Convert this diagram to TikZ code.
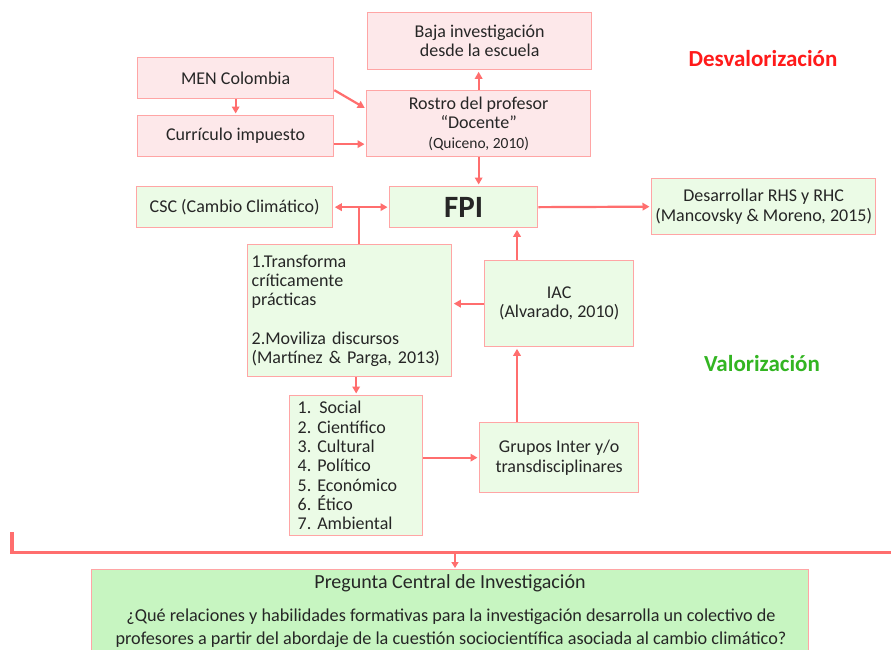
\documentclass[tikz,border=0pt]{standalone}
\usepackage{fontspec}
\setmainfont{Carlito}
\usetikzlibrary{arrows.meta,calc}
\definecolor{pinkfill}{HTML}{FDE8EA}
\definecolor{greenfill}{HTML}{EBFBE6}
\definecolor{boxline}{HTML}{FFA5A5}
\definecolor{arrcol}{HTML}{FF6E6E}
\definecolor{txt}{HTML}{262626}
\definecolor{bottomfill}{HTML}{C7F5C1}
\definecolor{redtxt}{HTML}{FF1A1A}
\definecolor{greentxt}{HTML}{33B522}
\tikzset{
  bx/.style={draw=boxline, line width=1.3pt, anchor=north west, inner sep=2pt, align=center,
    text=txt, font=\fontsize{18}{19.3}\selectfont},
  pinkbox/.style={bx, fill=pinkfill},
  greenbox/.style={bx, fill=greenfill},
  arr/.style={draw=arrcol, line width=2.2pt, shorten >=1.5pt, -{Triangle[length=7pt,width=7.5pt]}},
  dblarr/.style={draw=arrcol, line width=2.2pt, shorten >=1.5pt, shorten <=1.5pt, {Triangle[length=7pt,width=7.5pt]}-{Triangle[length=7pt,width=7.5pt]}},
  ln/.style={draw=arrcol, line width=2.2pt},
}
\begin{document}
\frenchspacing
\begin{tikzpicture}[x=1pt,y=-1pt]
\clip (0,0) rectangle (891,649);
\fill[white] (0,0) rectangle (891,649);

% Desvalorizacion block
\node[pinkbox, minimum width=224pt, minimum height=57pt] (baja) at (367,12) {Baja investigación\\desde la escuela};
\node[pinkbox, minimum width=196pt, minimum height=41pt] (men) at (137,57) {MEN Colombia};
\node[pinkbox, minimum width=196pt, minimum height=41pt] (cur) at (137,115) {Currículo impuesto};
\node[pinkbox, minimum width=224pt, minimum height=66pt] (ros) at (366,90) {Rostro del profesor\\“Docente”\\{\fontsize{15.5}{15}\selectfont (Quiceno, 2010)}};

% Central row
\node[greenbox, minimum width=196pt, minimum height=41pt] (csc) at (136,186) {CSC (Cambio Climático)};
\node[greenbox, minimum width=148pt, minimum height=41pt, font=\fontsize{31}{32}\selectfont\bfseries] (fpi) at (389,186) {FPI};
\node[greenbox, minimum width=224pt, minimum height=56pt] (des) at (651,178) {Desarrollar RHS y RHC\\(Mancovsky \& Moreno, 2015)};

\node[greenbox, minimum width=204pt, minimum height=132pt, align=left, text width=196pt] (tra) at (247,244) {1.Transforma\\críticamente\\prácticas\\[19.3pt]2.Moviliza discursos\\(Martínez \& Parga, 2013)};
\node[greenbox, minimum width=149pt, minimum height=86pt] (iac) at (484,260) {IAC\\(Alvarado, 2010)};
\node[greenbox, minimum width=133pt, minimum height=140pt, align=left, text width=117pt] (lst) at (289,395) {1.\hspace{8pt}Social\\2. Científico\\3. Cultural\\4. Político\\5. Económico\\6. Ético\\7. Ambiental};
\node[greenbox, minimum width=159pt, minimum height=70pt] (gru) at (479,422) {Grupos Inter y/o\\transdisciplinares};

% Labels
\node[text=redtxt, font=\fontsize{23}{24}\selectfont\bfseries] (dlab) at (763,59) {Desvalorización};
\node[text=greentxt, font=\fontsize{23}{24}\selectfont\bfseries] (vlab) at (762,364) {Valorización};

% Bottom box
\node[draw=boxline, line width=1.3pt, fill=bottomfill, anchor=north west, minimum width=717pt, minimum height=86pt] (pre) at (91,569) {};
\node[text=txt, font=\fontsize{20}{22}\selectfont] (pt) at (450,583) {Pregunta Central de Investigación};
\node[text=txt, font=\fontsize{18.2}{23}\selectfont, align=center] (pq) at (451,628) {¿Qué relaciones y habilidades formativas para la investigación desarrolla un colectivo de\\profesores a partir del abordaje de la cuestión sociocientífica asociada al cambio climático?};

% Connectors
\draw[arr] (men.south) -- (cur.north);
\draw[arr] ($(men.east)+(0,12)$) -- ($(ros.west)+(0,-15)$);
\draw[arr] ($(cur.east)+(0,8)$) coordinate (c1) -- (c1 -| ros.west);
\draw[arr] (ros.north) -- (ros.north |- baja.south);
\draw[arr] (ros.south) -- (ros.south |- fpi.north);
\draw[arr] (fpi.east) -- (des.west);
\draw[dblarr] (csc.east) -- (fpi.west);
\coordinate (br) at (359,0);
\draw[ln] (br |- tra.north) -- (br |- fpi.west);
\coordinate (k) at (517,0);
\draw[arr] (k |- iac.north) -- (k |- fpi.south);
\draw[arr] (k |- gru.north) -- (k |- iac.south);
\draw[arr] (iac.west) -- (iac.west -| tra.east);
\draw[arr] (tra.south -| lst.north) -- (lst.north);
\draw[arr] (gru.west -| lst.east) -- (gru.west);

% Bracket
\coordinate (bl) at (12,532);
\coordinate (bm) at (455,552);
\draw[draw=arrcol, line width=3.5pt] (bl) |- (892,552.5);
\draw[draw=arrcol, line width=2pt, shorten >=1pt, -{Triangle[length=6pt,width=7pt]}] (bm) -- (bm |- pre.north);
\end{tikzpicture}
\end{document}
